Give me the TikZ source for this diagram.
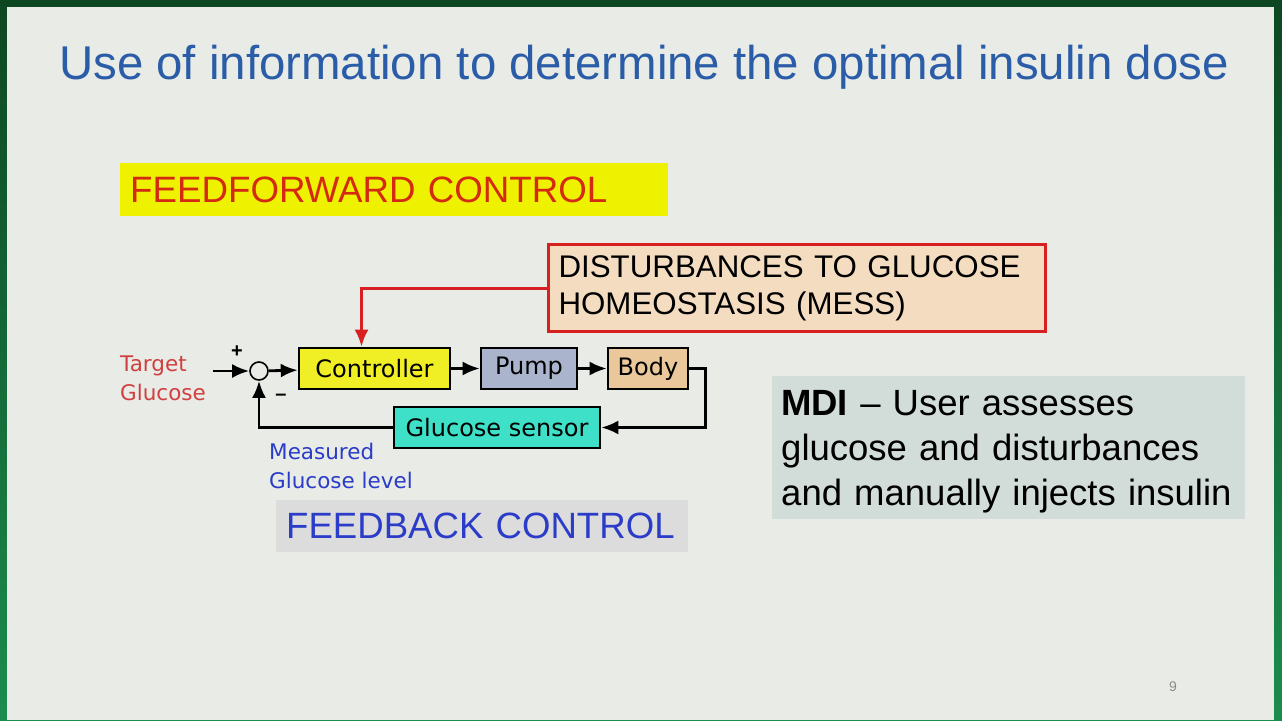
\documentclass[tikz,border=0pt]{standalone}
\usepackage{fontspec}
\setmainfont{Liberation Sans}
\newfontfamily\comic{DejaVu Sans}
\usetikzlibrary{arrows.meta}
\tikzset{>={Latex[length=17pt,width=14pt]}}
\definecolor{slidebg}{HTML}{E8EBE6}
\definecolor{greentop}{HTML}{0D4722}
\definecolor{greenbot}{HTML}{1C8C4E}
\definecolor{titleblue}{HTML}{2A5CA8}
\definecolor{ffred}{HTML}{D42A12}
\definecolor{ffyellow}{HTML}{EEF200}
\definecolor{ctrlyellow}{HTML}{F0EE24}
\definecolor{pumpblue}{HTML}{AAB4CC}
\definecolor{bodytan}{HTML}{EBC89C}
\definecolor{sensorcyan}{HTML}{3EE0C8}
\definecolor{disttan}{HTML}{F3DCC0}
\definecolor{distred}{HTML}{D82020}
\definecolor{fbgray}{HTML}{DCDCDC}
\definecolor{fbblue}{HTML}{2A3CC8}
\definecolor{mdigray}{HTML}{D2DCD8}
\definecolor{labred}{HTML}{D04040}
\tikzset{
	blk/.style={draw=black,line width=2.6pt,minimum height=41pt,inner xsep=8pt,font=\comic\fontsize{24}{28}\selectfont},
	sig/.style={line width=2.8pt,->},
	lab/.style={font=\comic\fontsize{21.5}{29}\selectfont,align=left,inner sep=0pt}
}

\begin{document}
\begin{tikzpicture}[x=1pt,y=-1pt]
	\useasboundingbox (0,0) rectangle (1282,720);
	\shade[top color=greentop,bottom color=greenbot] (0,0) rectangle (1282,720);
	\fill[slidebg] (7,7) rectangle (1274,720);

	\node[text=titleblue,font=\fontsize{47.4}{56}\selectfont,anchor=base] (title) at (644,79) {Use of information to determine the optimal insulin dose};

	\node[fill=ffyellow,text=ffred,anchor=north west,minimum width=548pt,minimum height=53pt,text width=528pt,inner xsep=10pt,align=left,font=\fontsize{36.7}{40}\selectfont] (ff) at (120,163) {FEEDFORWARD CONTROL};

	\node[fill=disttan,draw=distred,line width=3pt,anchor=north west,minimum width=497pt,minimum height=87pt,text width=477pt,inner xsep=10pt,align=left,font=\fontsize{31.3}{37}\selectfont] (dist) at (547,243) {DISTURBANCES TO GLUCOSE\\HOMEOSTASIS (MESS)};

	\node[draw=black,line width=1.6pt,circle,minimum size=18pt,inner sep=0pt,fill=slidebg] (sum) at (259,371) {};
	\node[blk,fill=ctrlyellow,minimum width=151pt] (ctrl) at (374.5,368.5) {Controller};
	\node[blk,fill=pumpblue,minimum width=96pt] (pump) at (529,368.5) {Pump};
	\node[blk,fill=bodytan,minimum width=80pt] (body) at (648,368.5) {Body};
	\node[blk,fill=sensorcyan,minimum width=206pt] (sens) at (497,427.5) {Glucose sensor};

	\coordinate (tgt) at (213,371);
	\node[lab,text=labred,anchor=north west] (tglab) at (120,356) {Target\\Glucose};
	\node[font=\bfseries\fontsize{20}{20}\selectfont] (plus) at (237,352) {+};
	\node[font=\bfseries\fontsize{20}{20}\selectfont] (minus) at (281,397) {--};
	\node[lab,text=fbblue,anchor=north west] (mglab) at (269,443) {Measured\\Glucose level};

	\draw[sig] (tgt) -- (sum);
	\draw[sig] (sum) -- (ctrl);
	\draw[sig] (ctrl) -- (pump);
	\draw[sig] (pump) -- (body);
	\draw[sig] (body.east) -- ++(16,0) |- (sens.east);
	\draw[sig] (sens.west) -| (sum.south);
	\draw[distred,line width=3pt,->] (dist.west) -| ([xshift=-13pt]ctrl.north);

	\node[fill=fbgray,text=fbblue,anchor=north west,minimum width=412pt,minimum height=52pt,text width=392pt,inner xsep=10pt,align=left,font=\fontsize{36.6}{40}\selectfont] (fb) at (276,500) {FEEDBACK CONTROL};

	\node[fill=mdigray,anchor=north west,minimum width=473pt,minimum height=143pt,inner sep=0pt] (mdibox) at (772,376) {};
	\node[text width=455pt,inner xsep=9pt,inner ysep=0pt,align=left,font=\fontsize{36.5}{45}\selectfont] (mdi) at ([yshift=-4pt]mdibox.center) {\textbf{MDI} -- User assesses\\glucose and disturbances\\and manually injects insulin};

	\node[text=black!45,font=\fontsize{14}{16}\selectfont] (pg) at (1173,687) {9};
\end{tikzpicture}
\end{document}
